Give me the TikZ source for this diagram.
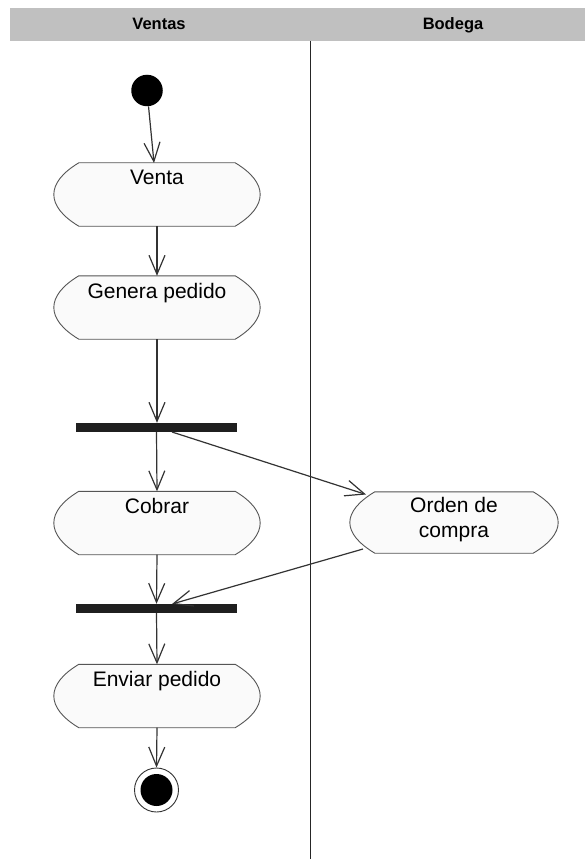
\documentclass[tikz,border=0pt]{standalone}
\usepackage{fontspec}
\setmainfont{Liberation Sans}
\usetikzlibrary{arrows.meta}
\definecolor{band}{HTML}{C0C0C0}
\definecolor{edgecol}{HTML}{333333}
\definecolor{boxline}{HTML}{555555}
\definecolor{boxfill}{HTML}{FAFAFA}
\newcommand\actoutline[1]{%
  \draw[boxline, line width=0.9pt, fill=boxfill]
    ([xshift=25pt]#1.north west) -- ([xshift=-25pt]#1.north east)
    .. controls ([xshift=8.3pt, yshift=-20pt]#1.north east) and ([xshift=8.3pt, yshift=20pt]#1.south east)
    .. ([xshift=-25pt]#1.south east)
    -- ([xshift=25pt]#1.south west)
    .. controls ([xshift=-8.3pt, yshift=20pt]#1.south west) and ([xshift=-8.3pt, yshift=-20pt]#1.north west)
    .. cycle;}
\tikzset{
  actbox/.style={minimum width=206pt, minimum height=63pt, inner xsep=0pt, inner ysep=0pt,
    text height=22pt, text depth=41pt, font=\fontsize{21}{25}\selectfont, align=center},
  syncbar/.style={fill=black!88, draw=none, minimum width=161pt, minimum height=9pt, inner sep=0pt},
  flow/.style={draw=edgecol, line width=1.2pt, -{Straight Barb[length=19pt, width=16pt, line width=1.2pt]}},
  lanehead/.style={font=\fontsize{16.5}{18}\selectfont\bfseries, anchor=base},
}
\begin{document}
\begin{tikzpicture}[x=1pt, y=-1pt]
\useasboundingbox[fill=white] (0,0) rectangle (585,861);
% swimlane header
\fill[band] (10,8) rectangle (585,41);
\node[lanehead] (lv) at (159,29.3) {Ventas};
\node[lanehead] (lb) at (453,29.3) {Bodega};
\coordinate (divtop) at (310,41);
\coordinate (divbot) at (310,859);
\draw[black!85, line width=1pt] (divtop) -- (divbot);

% activity boxes (outline drawn first, then text node on top)
\node[actbox] (venta) at (157,194.5) {};
\node[actbox] (genera) at (157,307.5) {};
\node[actbox] (cobrar) at (157,523) {};
\node[actbox] (enviar) at (157,696) {};
\node[actbox, minimum width=208pt, minimum height=61pt, text depth=39pt] (orden) at (454,522.5) {};
\actoutline{venta}
\actoutline{genera}
\actoutline{cobrar}
\actoutline{enviar}
\actoutline{orden}
\node[actbox] (ventaT) at (venta) {Venta};
\node[actbox] (generaT) at (genera) {Genera pedido};
\node[actbox] (cobrarT) at (cobrar) {Cobrar};
\node[actbox] (enviarT) at (enviar) {Enviar pedido};
\node[font=\fontsize{21}{25}\selectfont, align=center, anchor=north, inner sep=0pt] (ordenT) at (454,497) {Orden de\\compra};

% initial and final
\node[circle, fill=black, inner sep=0pt, minimum size=31.5pt] (init) at (147,90.5) {};
\node[circle, draw=edgecol, line width=0.9pt, fill=white, inner sep=0pt, minimum size=44pt] (final) at (156.5,790) {};
\node[circle, fill=black, inner sep=0pt, minimum size=32pt] (finalin) at (final) {};

% sync bars
\node[syncbar] (fork) at (156.5,427.5) {};
\node[syncbar] (join) at (156.5,608.5) {};

% connector end points
\coordinate (vin) at (154,163);
\coordinate (forkout) at (172,432);
\coordinate (ordin) at (366,494.5);
\coordinate (ordout) at (363,549);
\coordinate (joinin) at (172,604);

\draw[flow] (init) -- (vin);
\draw[flow] (venta.south) -- (genera.north);
\draw[flow] (genera.south) -- (genera.south |- fork.north);
\draw[flow] (fork.south) -- (cobrar.north);
\draw[flow] (forkout) -- (ordin);
\draw[flow] (ordout) -- (joinin);
\draw[flow] (cobrar.south) -- (join.north);
\draw[flow] (join.south) -- (enviar.north);
\draw[flow] (enviar.south) -- (final.north);
\end{tikzpicture}
\end{document}
